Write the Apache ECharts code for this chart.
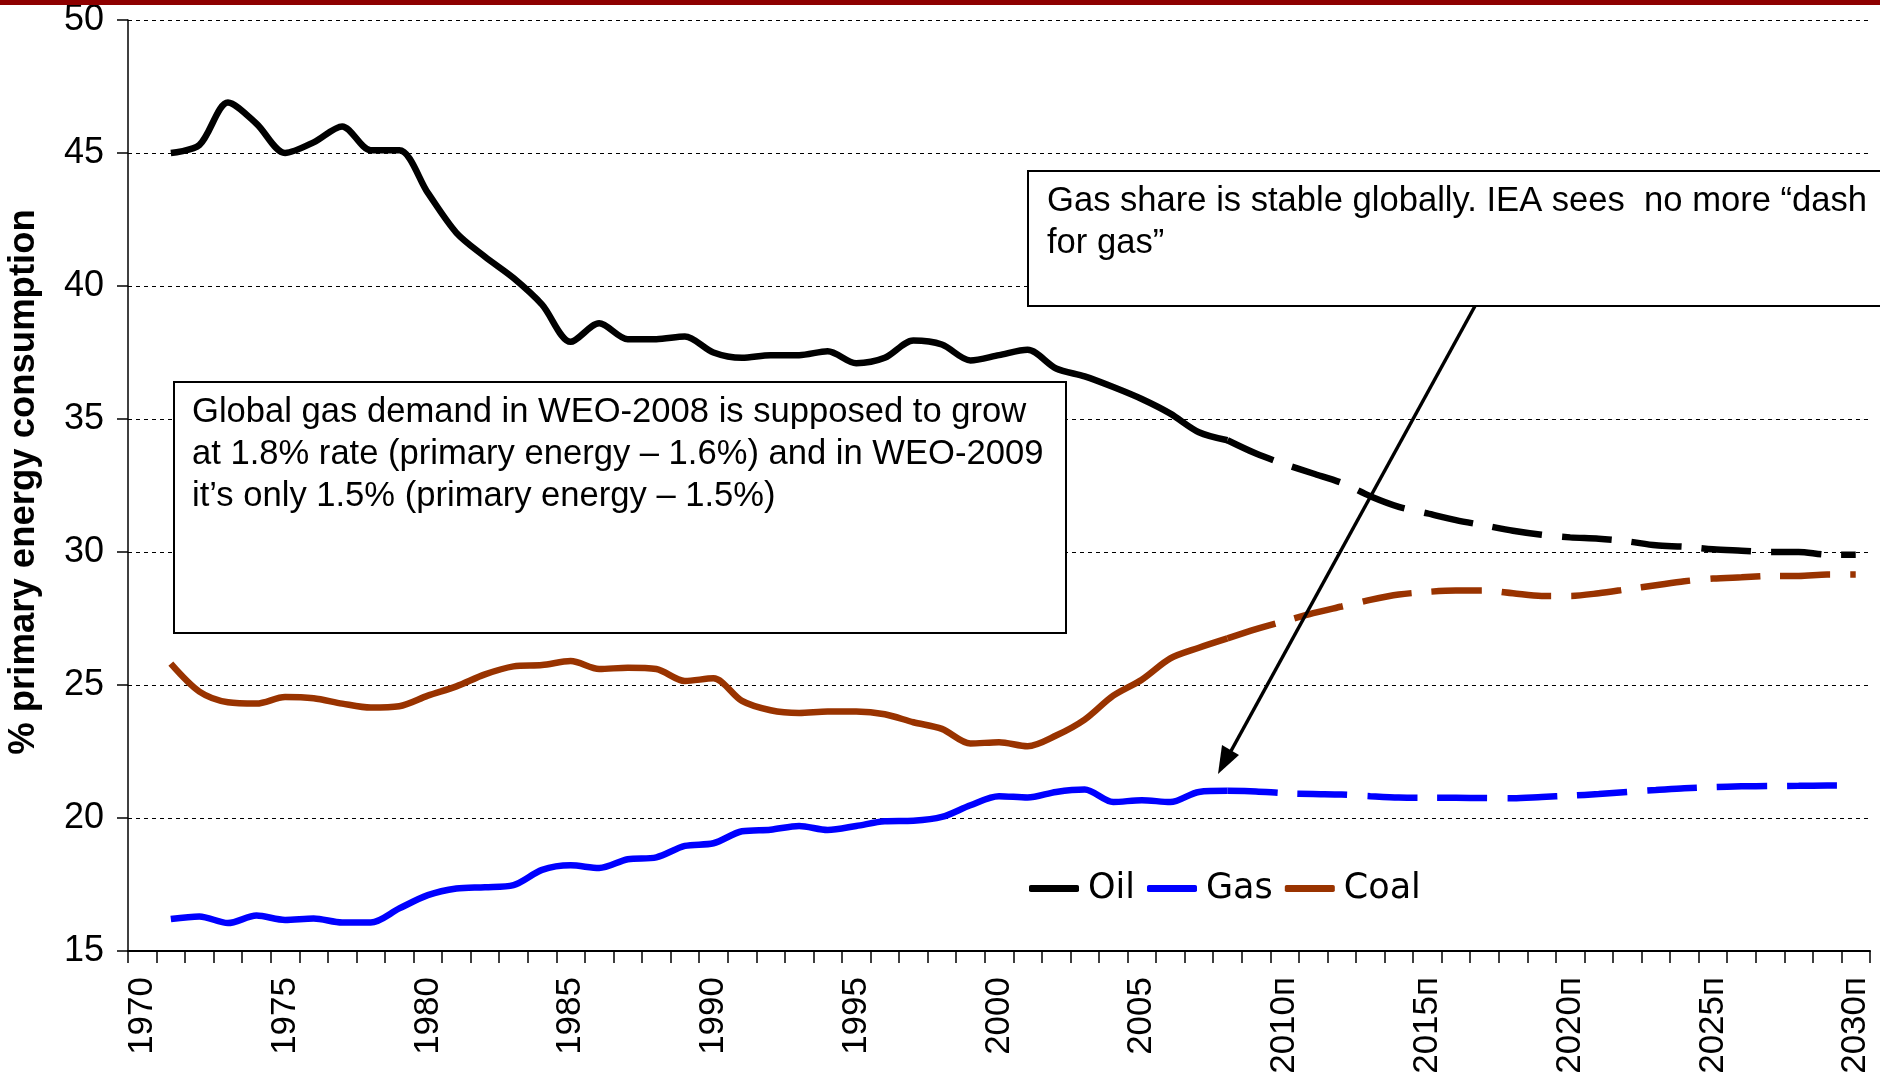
<!DOCTYPE html>
<html>
<head>
<meta charset="utf-8">
<script src="https://cdn.jsdelivr.net/npm/echarts@6/dist/echarts.min.js"></script>
<style>
  html, body { margin: 0; padding: 0; background: #fff; }
  #chart { width: 1880px; height: 1081px; }
</style>
</head>
<body>
<div id="chart"></div>
<script>
// years on the axis, projections marked with "п"
var categories = ['1970','1971','1972','1973','1974','1975','1976','1977','1978','1979',
  '1980','1981','1982','1983','1984','1985','1986','1987','1988','1989',
  '1990','1991','1992','1993','1994','1995','1996','1997','1998','1999',
  '2000','2001','2002','2003','2004','2005','2006','2007','2008','2009',
  '2010п','2011п','2012п','2013п','2014п','2015п','2016п','2017п','2018п','2019п',
  '2020п','2021п','2022п','2023п','2024п','2025п','2026п','2027п','2028п','2029п','2030п'];

// history 1971-2008
var oilActual = [45.0, 45.3, 46.9, 46.1, 45.0, 45.4, 46.0, 45.1, 45.1, 43.5,
  42.0, 41.1, 40.3, 39.3, 37.9, 38.6, 38.0, 38.0, 38.1, 37.5,
  37.3, 37.4, 37.4, 37.55, 37.1, 37.3, 37.95, 37.8, 37.2, 37.4,
  37.6, 36.9, 36.6, 36.2, 35.75, 35.2, 34.5, 34.2];
var gasActual = [16.2, 16.3, 16.05, 16.33, 16.17, 16.22, 16.07, 16.07, 16.6, 17.1,
  17.35, 17.4, 17.48, 18.05, 18.22, 18.12, 18.45, 18.52, 18.95, 19.05,
  19.5, 19.56, 19.7, 19.55, 19.7, 19.88, 19.9, 20.04, 20.48, 20.82,
  20.77, 20.98, 21.07, 20.6, 20.67, 20.6, 20.98, 21.02];
var coalActual = [25.8, 24.75, 24.35, 24.3, 24.55, 24.5, 24.3, 24.15, 24.2, 24.6,
  24.95, 25.4, 25.7, 25.75, 25.9, 25.6, 25.65, 25.6, 25.15, 25.25,
  24.4, 24.05, 23.95, 24.0, 24.0, 23.9, 23.6, 23.35, 22.8, 22.85,
  22.7, 23.1, 23.7, 24.6, 25.2, 26.0, 26.4, 26.75];

// projections 2008-2030
var oilForecast = [34.2, 33.7, 33.3, 32.95, 32.6, 32.1, 31.7, 31.45, 31.2, 31.0,
  30.8, 30.65, 30.55, 30.5, 30.4, 30.25, 30.2, 30.1, 30.05, 30.0, 30.0, 29.9, 29.9];
var gasForecast = [21.02, 21.0, 20.93, 20.9, 20.88, 20.82, 20.77, 20.76, 20.76, 20.75,
  20.74, 20.79, 20.84, 20.9, 20.98, 21.05, 21.12, 21.16, 21.19, 21.2, 21.21, 21.22, 21.22];
var coalForecast = [26.75, 27.1, 27.4, 27.7, 27.95, 28.2, 28.4, 28.5, 28.55, 28.55,
  28.45, 28.35, 28.35, 28.45, 28.6, 28.75, 28.9, 29.0, 29.05, 29.1, 29.1, 29.15, 29.15];

var yTicks = [15, 20, 25, 30, 35, 40, 45, 50];

var FONT = 'Liberation Sans, Arial, sans-serif';

function pad(values, start) {
  var out = [];
  for (var i = 0; i < categories.length; i++) {
    var k = i - start;
    out.push(k >= 0 && k < values.length ? values[k] : null);
  }
  return out;
}

function line(name, color, data, dashed) {
  return {
    name: name,
    type: 'line',
    data: data,
    smooth: 0.3,
    symbol: 'none',
    connectNulls: false,
    itemStyle: { color: color },
    lineStyle: { color: color, width: 6.5, type: dashed ? [50, 20] : 'solid' },
    z: 3
  };
}

var chart = echarts.init(document.getElementById('chart'));

chart.setOption({
  animation: false,
  backgroundColor: '#fff',
  grid: { left: 128, right: 10, top: 20, bottom: 130 },
  legend: {
    data: ['Oil', 'Gas', 'Coal'],
    left: 1024,
    top: 866,
    icon: 'roundRect',
    itemWidth: 50,
    itemHeight: 7,
    itemGap: 12,
    textStyle: { fontFamily: 'DejaVu Sans, sans-serif', fontSize: 35, color: '#000', padding: [0, 0, 0, 4] }
  },
  xAxis: {
    type: 'category',
    data: categories,
    boundaryGap: true,
    axisLine: { lineStyle: { color: '#000', width: 2 } },
    axisTick: { show: true, interval: 0, length: 12, lineStyle: { color: '#000', width: 1.5 } },
    axisLabel: {
      interval: 4,
      rotate: 90,
      margin: 26,
      fontFamily: FONT,
      fontSize: 35,
      color: '#000'
    },
    splitLine: { show: false }
  },
  yAxis: {
    type: 'value',
    min: yTicks[0],
    max: yTicks[yTicks.length - 1],
    interval: 5,
    axisLine: { show: true, lineStyle: { color: '#000', width: 1.5 } },
    axisTick: { show: true, length: 11, lineStyle: { color: '#000', width: 1.5 } },
    axisLabel: { margin: 24, fontFamily: FONT, fontSize: 36, color: '#000' },
    splitLine: { show: true, lineStyle: { color: '#000', width: 1, type: [4, 4] } }
  },
  series: [
    line('Oil', '#000000', pad(oilActual, 1), false),
    line('Gas', '#0000ff', pad(gasActual, 1), false),
    line('Coal', '#993300', pad(coalActual, 1), false),
    line('Oil', '#000000', pad(oilForecast, 38), true),
    line('Gas', '#0000ff', pad(gasForecast, 38), true),
    line('Coal', '#993300', pad(coalForecast, 38), true)
  ],
  graphic: [
    { type: 'rect', shape: { x: 0, y: 0, width: 1880, height: 5 }, style: { fill: '#8e0000' }, z: 200 },
    {
      type: 'text', x: 24, y: 482, rotation: Math.PI / 2,
      style: { text: '% primary energy consumption', font: 'bold 36.5px ' + FONT, fill: '#000',
        textAlign: 'center', textVerticalAlign: 'middle' },
      z: 200
    },
    {
      type: 'rect', shape: { x: 174, y: 382, width: 892, height: 251 },
      style: { fill: '#fff', stroke: '#000', lineWidth: 2 }, z: 100
    },
    {
      type: 'text', x: 192, y: 391,
      style: {
        text: 'Global gas demand in WEO-2008 is supposed to grow\nat 1.8% rate (primary energy – 1.6%) and in WEO-2009\nit’s only 1.5% (primary energy – 1.5%)',
        font: '34.6px ' + FONT, fill: '#000', lineHeight: 42,
        textAlign: 'left', textVerticalAlign: 'top'
      },
      z: 101
    },
    {
      type: 'rect', shape: { x: 1028, y: 171, width: 870, height: 135 },
      style: { fill: '#fff', stroke: '#000', lineWidth: 2 }, z: 100
    },
    {
      type: 'text', x: 1047, y: 180,
      style: {
        text: 'Gas share is stable globally. IEA sees  no more “dash\nfor gas”',
        font: '34.6px ' + FONT, fill: '#000', lineHeight: 42,
        textAlign: 'left', textVerticalAlign: 'top'
      },
      z: 101
    },
    {
      type: 'line', shape: { x1: 1475, y1: 306, x2: 1231, y2: 751 },
      style: { stroke: '#000', lineWidth: 3.5 }, z: 102
    },
    {
      type: 'polygon', shape: { points: [[1218, 774], [1239, 755], [1222, 745]] },
      style: { fill: '#000' }, z: 102
    }
  ]
});
</script>
</body>
</html>
